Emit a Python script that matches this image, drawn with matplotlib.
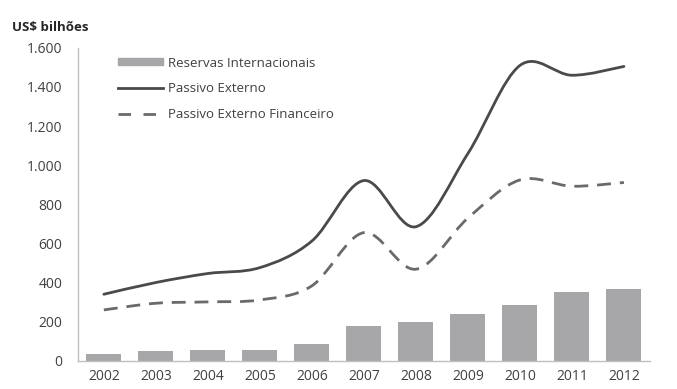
import numpy as np
import matplotlib
matplotlib.use("Agg")
import matplotlib.pyplot as plt
from matplotlib.path import Path
from matplotlib.patches import PathPatch
from matplotlib.lines import Line2D
from matplotlib.ticker import FuncFormatter

years = ["2002", "2003", "2004", "2005", "2006", "2007", "2008", "2009", "2010", "2011", "2012"]
reservas = [37, 50, 54, 54, 86, 180, 200, 238, 288, 352, 370]
passivo = [341, 401, 447, 477, 613, 922, 686, 1060, 1510, 1460, 1505]
passivo_fin = [261, 295, 302, 312, 384, 656, 469, 730, 925, 893, 912]

BAR_COLOR = "#a7a7a9"
LINE_COLOR = "#4a4a4a"
DASH_COLOR = "#6a6a6a"
TEXT_COLOR = "#404040"
DASH = (0, (5, 3.2))

plt.rcParams["font.family"] = ["Open Sans", "DejaVu Sans"]


def smooth_path(x, y):
    # Excel-style smoothed line: cubic bezier through the points
    pts = np.column_stack([x, y]).astype(float)
    n = len(pts)
    verts = [pts[0]]
    codes = [Path.MOVETO]
    for i in range(n - 1):
        p0 = pts[i - 1] if i > 0 else pts[i]
        p1 = pts[i]
        p2 = pts[i + 1]
        p3 = pts[i + 2] if i + 2 < n else pts[i + 1]
        c1 = p1 + (p2 - p0) / 6
        c2 = p2 - (p3 - p1) / 6
        verts += [c1, c2, p2]
        codes += [Path.CURVE4] * 3
    return Path(verts, codes)


fig = plt.figure(figsize=(6.77, 3.89), dpi=100)
ax = fig.add_axes([0.115, 0.072, 0.845, 0.805])

x = np.arange(len(years))
ax.bar(x, reservas, width=0.67, color=BAR_COLOR, zorder=2)

ax.add_patch(PathPatch(smooth_path(x, passivo), facecolor="none",
                       edgecolor=LINE_COLOR, lw=2.0, capstyle="round", zorder=3))
ax.add_patch(PathPatch(smooth_path(x, passivo_fin), facecolor="none",
                       edgecolor=DASH_COLOR, lw=2.0, linestyle=DASH, zorder=3))

ax.set_xlim(-0.5, len(years) - 0.5)
ax.set_ylim(0, 1600)
ax.set_yticks(range(0, 1601, 200))
ax.yaxis.set_major_formatter(FuncFormatter(lambda v, p: f"{int(v):,}".replace(",", ".")))
ax.set_xticks(x)
ax.set_xticklabels(years)
ax.tick_params(length=0, labelsize=10, colors=TEXT_COLOR)
ax.tick_params(axis="x", pad=6)
ax.tick_params(axis="y", pad=11)

for s in ["top", "right"]:
    ax.spines[s].set_visible(False)
for s in ["left", "bottom"]:
    ax.spines[s].set_color("#bfbfbf")
    ax.spines[s].set_linewidth(1.0)

handles = [
    plt.Rectangle((0, 0), 1, 1, color=BAR_COLOR),
    Line2D([], [], color=LINE_COLOR, lw=2.0),
    Line2D([], [], color=DASH_COLOR, lw=2.0, linestyle=(0, (4.5, 4.5))),
]
labels = ["Reservas Internacionais", "Passivo Externo", "Passivo Externo Financeiro"]
leg = ax.legend(handles, labels, loc="upper left", bbox_to_anchor=(0.05, 1.01),
                frameon=False, fontsize=9.5, handlelength=3.4, handleheight=0.45,
                handletextpad=0.4, labelspacing=0.95, labelcolor=TEXT_COLOR)

fig.text(0.018, 0.93, "US$ bilhões", fontsize=9.5, fontweight="bold",
         color="#262626", ha="left", va="center")

fig.savefig("out.png", dpi=100)
